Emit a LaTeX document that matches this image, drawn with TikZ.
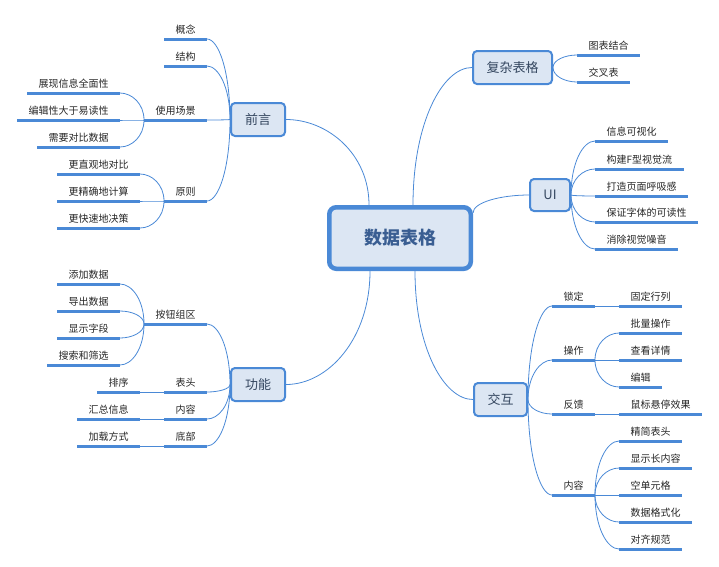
\documentclass[tikz,border=0pt]{standalone}
\usepackage{fontspec}
\setmainfont{Noto Sans CJK SC}
\usepackage{tikz}
\usetikzlibrary{positioning,calc}

\definecolor{linkblue}{HTML}{4A89D6}
\definecolor{boxfill}{HTML}{DCE6F3}
\definecolor{topictext}{HTML}{34465F}
\definecolor{roottext}{HTML}{3A5E92}
\definecolor{leaftext}{HTML}{262626}

\tikzset{
  root/.style={draw=linkblue, fill=boxfill, line width=4.5pt, rounded corners=7pt, minimum width=141.5pt, minimum height=61.5pt, font=\fontsize{18}{20}\selectfont\bfseries, text=roottext},
  topic/.style={draw=linkblue, fill=boxfill, line width=2pt, rounded corners=4pt, minimum height=33pt, font=\fontsize{13}{15}\selectfont, text=topictext},
  uline/.style={draw=linkblue, line width=3pt},
  leaf/.style={font=\fontsize{10}{12}\selectfont, text=leaftext, inner xsep=11.5pt, inner ysep=0pt, outer sep=0pt, text height=8pt, text depth=6pt,
    append after command={(\tikzlastnode.south west) edge[uline] (\tikzlastnode.south east)}},
  link/.style={draw=linkblue, line width=0.8pt,
    to path={.. controls ($(\tikztostart)!0.6!(\tikztostart|-\tikztotarget)$) and ($(\tikztotarget)!0.5!(\tikztotarget-|\tikztostart)$) .. (\tikztotarget)}},
}

\begin{document}
\begin{tikzpicture}[x=1pt, y=-1pt]
            \useasboundingbox (0,0) rectangle (719,566);
            \node[root](shuju) at (400,238){数据表格};
            \coordinate (r-qianyan) at ([xshift=-31pt]shuju.north);
            \coordinate (r-fuza) at ([xshift=13pt]shuju.north);
            \coordinate (r-ui) at ([yshift=25pt]shuju.east);
            \coordinate (r-jiaohu) at ([xshift=15pt]shuju.south);
            \coordinate (r-gongneng) at ([xshift=-30pt]shuju.south);

            % left: 前言
            \node[topic, minimum width=54pt](qianyan) at (258,119.5){前言};
            \draw[link](r-qianyan) to (qianyan.east);
            \node[leaf, anchor=south east](gainian) at (207,39){概念};
            \draw[link](qianyan.west) to (gainian.south east);
            \node[leaf, anchor=south east](jiegou) at (207,66){结构};
            \draw[link](qianyan.west) to (jiegou.south east);
            \node[leaf, anchor=south east](changjing) at (207,120){使用场景};
            \draw[link](qianyan.west) to (changjing.south east);
            \node[leaf, anchor=south east](yuanze) at (207,201){原则};
            \draw[link](qianyan.west) to (yuanze.south east);
            \node[leaf, anchor=south east](quanmian) at (120,93){展现信息全面性};
            \draw[link](changjing.south west) to (quanmian.south east);
            \node[leaf, anchor=south east](yidu) at (120,120){编辑性大于易读性};
            \draw[link](changjing.south west) to (yidu.south east);
            \node[leaf, anchor=south east](duibi) at (120,147){需要对比数据};
            \draw[link](changjing.south west) to (duibi.south east);
            \node[leaf, anchor=south east](zhiguan) at (140,174){更直观地对比};
            \draw[link](yuanze.south west) to (zhiguan.south east);
            \node[leaf, anchor=south east](jingque) at (140,201){更精确地计算};
            \draw[link](yuanze.south west) to (jingque.south east);
            \node[leaf, anchor=south east](kuaisu) at (140,228){更快速地决策};
            \draw[link](yuanze.south west) to (kuaisu.south east);

            % left: 功能
            \node[topic, minimum width=54pt](gongneng) at (258,384.5){功能};
            \draw[link](r-gongneng) to (gongneng.east);
            \node[leaf, anchor=south east](anniu) at (207,324){按钮组区};
            \draw[link](gongneng.west) to (anniu.south east);
            \node[leaf, anchor=south east](biaotou) at (207,392){表头};
            \draw[link](gongneng.west) to (biaotou.south east);
            \node[leaf, anchor=south east](neirong) at (207,419){内容};
            \draw[link](gongneng.west) to (neirong.south east);
            \node[leaf, anchor=south east](dibu) at (207,446){底部};
            \draw[link](gongneng.west) to (dibu.south east);
            \node[leaf, anchor=south east](tianjia) at (120,284){添加数据};
            \draw[link](anniu.south west) to (tianjia.south east);
            \node[leaf, anchor=south east](daochu) at (120,311){导出数据};
            \draw[link](anniu.south west) to (daochu.south east);
            \node[leaf, anchor=south east](ziduan) at (120,338){显示字段};
            \draw[link](anniu.south west) to (ziduan.south east);
            \node[leaf, anchor=south east](sousuo) at (120,365){搜索和筛选};
            \draw[link](anniu.south west) to (sousuo.south east);
            \node[leaf, anchor=south east](paixu) at (140,392){排序};
            \draw[link](biaotou.south west) to (paixu.south east);
            \node[leaf, anchor=south east](huizong) at (140,419){汇总信息};
            \draw[link](neirong.south west) to (huizong.south east);
            \node[leaf, anchor=south east](jiazai) at (140,446){加载方式};
            \draw[link](dibu.south west) to (jiazai.south east);

            % right: 复杂表格
            \node[topic, minimum width=79pt](fuza) at (512.5,67.5){复杂表格};
            \draw[link](r-fuza) to (fuza.west);
            \node[leaf, anchor=south west](tubiao) at (577,55){图表结合};
            \draw[link](fuza.east) to (tubiao.south west);
            \node[leaf, anchor=south west](jiaocha) at (577,82){交叉表};
            \draw[link](fuza.east) to (jiaocha.south west);

            % right: UI
            \node[topic, minimum width=40pt, minimum height=32pt](ui) at (550,195){UI};
            \draw[link](r-ui) to (ui.west);
            \node[leaf, anchor=south west](keshihua) at (595,141){信息可视化};
            \draw[link](ui.east) to (keshihua.south west);
            \node[leaf, anchor=south west](fxing) at (595,169){构建F型视觉流};
            \draw[link](ui.east) to (fxing.south west);
            \node[leaf, anchor=south west](huxi) at (595,196){打造页面呼吸感};
            \draw[link](ui.east) to (huxi.south west);
            \node[leaf, anchor=south west](kedu) at (595,222){保证字体的可读性};
            \draw[link](ui.east) to (kedu.south west);
            \node[leaf, anchor=south west](zaoyin) at (595,249){消除视觉噪音};
            \draw[link](ui.east) to (zaoyin.south west);

            % right: 交互
            \node[topic, minimum width=53pt](jiaohu) at (500.5,399.5){交互};
            \draw[link](r-jiaohu) to (jiaohu.west);
            \node[leaf, anchor=south west](suoding) at (552,306){锁定};
            \draw[link](jiaohu.east) to (suoding.south west);
            \node[leaf, anchor=south west](caozuo) at (552,360){操作};
            \draw[link](jiaohu.east) to (caozuo.south west);
            \node[leaf, anchor=south west](fankui) at (552,414){反馈};
            \draw[link](jiaohu.east) to (fankui.south west);
            \node[leaf, anchor=south west](jhneirong) at (552,495){内容};
            \draw[link](jiaohu.east) to (jhneirong.south west);
            \node[leaf, anchor=south west](guding) at (619,306){固定行列};
            \draw[link](suoding.south east) to (guding.south west);
            \node[leaf, anchor=south west](piliang) at (619,333){批量操作};
            \draw[link](caozuo.south east) to (piliang.south west);
            \node[leaf, anchor=south west](chakan) at (619,360){查看详情};
            \draw[link](caozuo.south east) to (chakan.south west);
            \node[leaf, anchor=south west](bianji) at (619,387){编辑};
            \draw[link](caozuo.south east) to (bianji.south west);
            \node[leaf, anchor=south west](xuanting) at (619,414){鼠标悬停效果};
            \draw[link](fankui.south east) to (xuanting.south west);
            \node[leaf, anchor=south west](jingjian) at (619,441){精简表头};
            \draw[link](jhneirong.south east) to (jingjian.south west);
            \node[leaf, anchor=south west](changnr) at (619,468){显示长内容};
            \draw[link](jhneirong.south east) to (changnr.south west);
            \node[leaf, anchor=south west](kongdan) at (619,495){空单元格};
            \draw[link](jhneirong.south east) to (kongdan.south west);
            \node[leaf, anchor=south west](geshihua) at (619,522){数据格式化};
            \draw[link](jhneirong.south east) to (geshihua.south west);
            \node[leaf, anchor=south west](duiqi) at (619,549){对齐规范};
            \draw[link](jhneirong.south east) to (duiqi.south west);
\end{tikzpicture}
\end{document}
